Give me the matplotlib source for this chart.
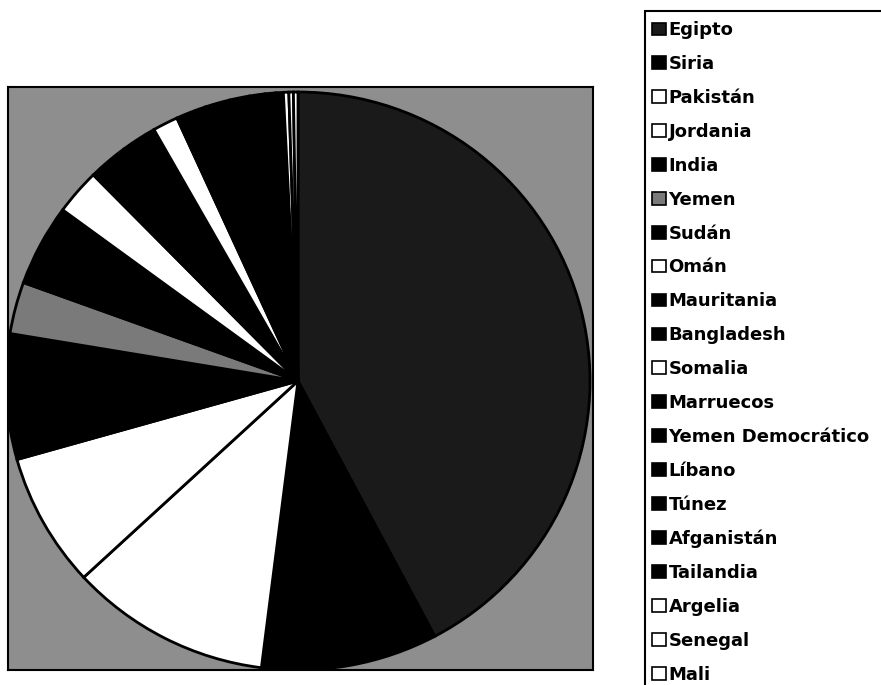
import matplotlib
matplotlib.use("Agg")
import matplotlib.pyplot as plt
from matplotlib.patches import Rectangle

# ---------------------------------------------------------------
# data: shares (percent), clockwise from 12 o'clock
# ---------------------------------------------------------------
countries = ["Egipto", "Siria", "Pakistán", "Jordania", "India", "Yemen",
             "Sudán", "Omán", "Mauritania", "Bangladesh", "Somalia",
             "Marruecos", "Yemen Democrático", "Líbano", "Túnez",
             "Afganistán", "Tailandia", "Argelia", "Senegal", "Mali"]
shares = [42.2, 9.75, 11.1, 7.5, 7.0, 2.9,
          4.55, 2.55, 2.2, 1.95, 1.4,
          1.65, 1.4, 1.1, 0.85,
          0.6, 0.4, 0.3, 0.25, 0.25]
fills = ["#1a1a1a", "black", "white", "white", "black", "#7a7a7a",
         "black", "white", "black", "black", "white",
         "black", "black", "black", "black",
         "black", "black", "white", "white", "white"]

W, H = 881, 685
fig = plt.figure(figsize=(W / 100, H / 100), dpi=100)
fig.patch.set_facecolor("white")

# pie box (pixel layout of the scan); the scanned pie is a touch oval
box_l, box_r, box_t, box_b = 8, 593, 87, 670
cx, cy = 298, 381
rx, ry = 292, 289
ax = fig.add_axes([box_l / W, (H - box_b) / H, (box_r - box_l) / W, (box_b - box_t) / H])
ax.set_facecolor("#8e8e8e")

wedges, _ = ax.pie(shares, colors=fills, startangle=90, counterclock=False,
                   radius=1, frame=True,
                   wedgeprops=dict(edgecolor="black", linewidth=2))
for w in wedges:
    w.set_clip_on(True)
    w.set_clip_path(ax.patch)
ax.set_xlim((box_l - cx) / rx, (box_r - cx) / rx)
ax.set_ylim((cy - box_b) / ry, (cy - box_t) / ry)
ax.set_aspect("auto")
ax.set_xticks([])
ax.set_yticks([])
for sp in ax.spines.values():
    sp.set_linewidth(1.5)
    sp.set_color("black")
    sp.set_zorder(5)

# legend, its box running off the page like the scan
leg = fig.legend(wedges, countries, loc="upper left",
                 bbox_to_anchor=(645 / W, 1 - 14 / H), borderaxespad=0,
                 frameon=False,
                 handlelength=0.75, handleheight=0.7, handletextpad=0.15,
                 labelspacing=0.88, borderpad=0.4,
                 prop=dict(family="DejaVu Sans", weight="bold", size=13))
for h in leg.legend_handles:
    h.set_linewidth(1.2)
fig.add_artist(Rectangle((645 / W, -0.05), 0.5, 1.05 - 11 / H,
                         transform=fig.transFigure, fill=False,
                         edgecolor="black", linewidth=1.5))

fig.savefig("out.png", dpi=100)
